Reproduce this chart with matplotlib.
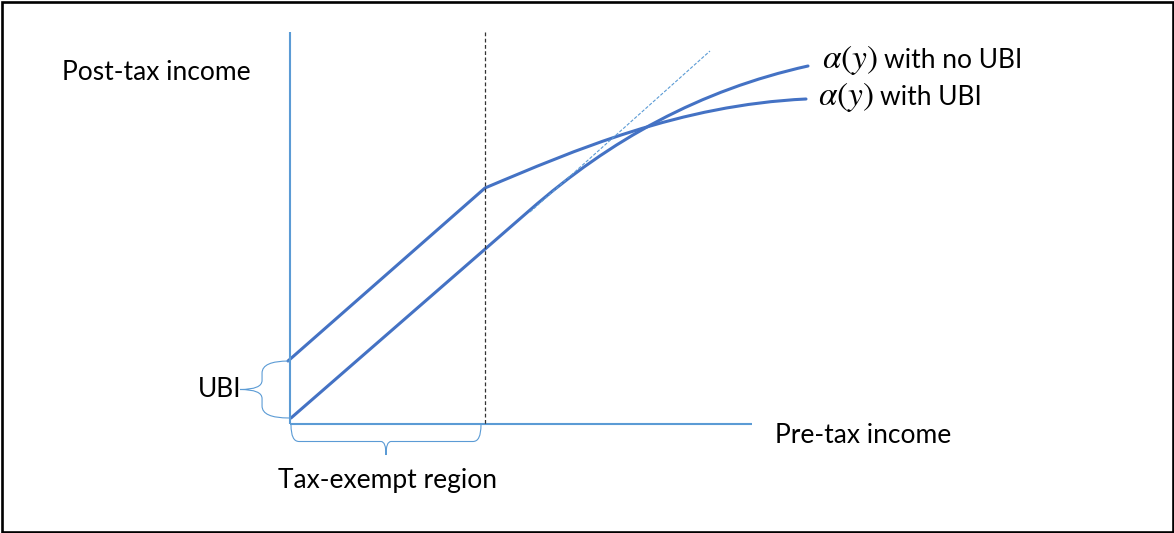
import matplotlib.pyplot as plt
from matplotlib.path import Path
from matplotlib.patches import PathPatch, Rectangle

plt.rcParams['font.family'] = ['Lato', 'DejaVu Sans']
plt.rcParams['mathtext.fontset'] = 'stix'

# diagram coordinates (pixel-like units, y grows downward)
y_axis_x = [290, 290]
y_axis_y = [32, 424]
x_axis_x = [290, 752]
x_axis_y = [424, 424]
cutoff_x = [485, 485]
cutoff_y = [32, 424]
tangent_x = [530, 710]
tangent_y = [212, 51]

# alpha(y) with no UBI: straight until the tangent point, then flattens
no_ubi_pts = [(291, 418), (530, 210), (610, 140), (700, 90), (808, 66)]
# alpha(y) with UBI: straight in the exempt region, kink at the cutoff
ubi_pts = [(288, 361), (485, 188), (575, 150), (680, 105), (806, 99)]
curve_codes = [Path.MOVETO, Path.LINETO, Path.CURVE4, Path.CURVE4, Path.CURVE4]

# braces: end points
ubi_brace = [(289, 361), (289, 418)]
exempt_brace = [(291, 425), (481, 425)]

labels = ["Post-tax income", "UBI", "Pre-tax income", "Tax-exempt region",
          "with no UBI", "with UBI"]
label_pos = [(62, 80), (198, 397), (775, 443), (278, 488), (884, 68), (880, 105)]
math_labels = [r"$\alpha(y)$", r"$\alpha(y)$"]
math_pos = [(822, 68), (818, 105)]

line_blue = '#4472C4'
axis_blue = '#5B9BD5'


def brace_path(p0, p1, n, depth, r_end, r_tip):
    # curly brace from p0 to p1, tip pushed along normal n
    ux = (p1[0] - p0[0]); uy = (p1[1] - p0[1])
    L = (ux ** 2 + uy ** 2) ** 0.5
    ux, uy = ux / L, uy / L
    mx, my = (p0[0] + p1[0]) / 2, (p0[1] + p1[1]) / 2
    d1 = depth * 0.55

    def pt(base, along, out):
        return (base[0] + ux * along + n[0] * out, base[1] + uy * along + n[1] * out)

    verts = [p0,
             pt(p0, 0, d1), pt(p0, r_end, d1),
             pt((mx, my), -r_tip, d1),
             pt((mx, my), 0, d1), pt((mx, my), 0, depth),
             pt((mx, my), 0, d1), pt((mx, my), r_tip, d1),
             pt(p1, -r_end, d1),
             pt(p1, 0, d1), p1]
    codes = [Path.MOVETO, Path.CURVE3, Path.CURVE3, Path.LINETO,
             Path.CURVE3, Path.CURVE3, Path.CURVE3, Path.CURVE3,
             Path.LINETO, Path.CURVE3, Path.CURVE3]
    return Path(verts, codes)


fig = plt.figure(figsize=(11.74, 5.33), dpi=100)
ax = fig.add_axes([0, 0, 1, 1])
ax.set_xlim(0, 1174)
ax.set_ylim(533, 0)
ax.axis('off')

# frame
ax.add_patch(Rectangle((1.5, 1.5), 1171, 530, fill=False, edgecolor='black', lw=1.9))

# axes of the diagram
ax.plot(y_axis_x, y_axis_y, color=axis_blue, lw=1.5, solid_capstyle='butt')
ax.plot(x_axis_x, x_axis_y, color=axis_blue, lw=1.5, solid_capstyle='butt')
ax.plot(cutoff_x, cutoff_y, color='#333333', lw=0.9, linestyle=(0, (3, 2)))
ax.plot(tangent_x, tangent_y, color=axis_blue, lw=0.8, linestyle=(0, (3, 1.5)))

# the two curves
ax.add_patch(PathPatch(Path(no_ubi_pts, curve_codes), fill=False, edgecolor=line_blue,
                       lw=2.2, capstyle='round'))
ax.add_patch(PathPatch(Path(ubi_pts, curve_codes), fill=False, edgecolor=line_blue,
                       lw=2.2, capstyle='round'))

# braces
ax.add_patch(PathPatch(brace_path(ubi_brace[0], ubi_brace[1], (-1, 0), 49, 12, 9),
                       fill=False, edgecolor=axis_blue, lw=0.8))
ax.add_patch(PathPatch(brace_path(exempt_brace[0], exempt_brace[1], (0, 1), 30, 8, 5),
                       fill=False, edgecolor=axis_blue, lw=0.8))

for txt, (x, y) in zip(labels, label_pos):
    ax.text(x, y, txt, fontsize=19, color='black', ha='left', va='baseline')
for txt, (x, y) in zip(math_labels, math_pos):
    ax.text(x, y, txt, fontsize=24, color='black', ha='left', va='baseline')

fig.savefig('out.png', dpi=100)
